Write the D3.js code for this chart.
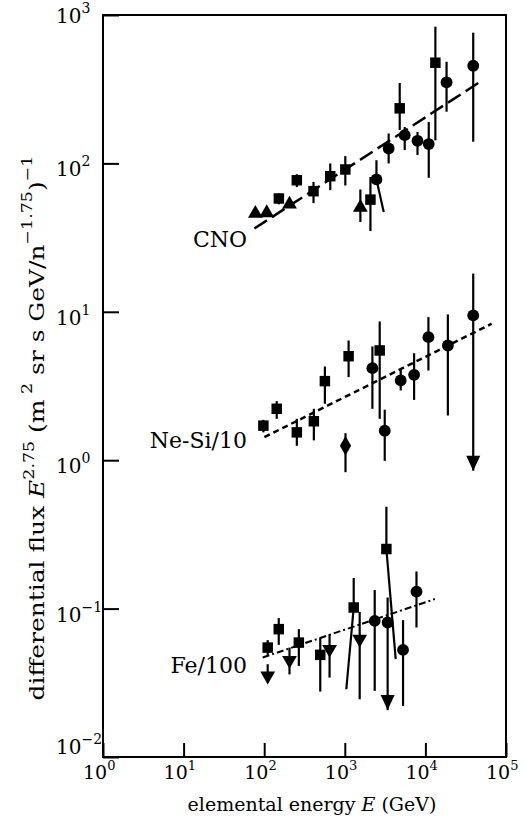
<!DOCTYPE html>
<html lang="en">
<head>
<meta charset="utf-8">
<title>Elemental flux</title>
<script src="https://d3js.org/d3.v7.min.js"></script>
<style>
  body { margin: 0; background: #fff; }
  svg text { font-family: "DejaVu Serif", serif; fill: #000; }
</style>
</head>
<body>
<div class="chart"></div>
<script>
// points: [energy (GeV), flux, lower end, upper end, energy at lower end (slanted bars)]
var cnoSquares = [
  [152, 58, 53, 62.6], [254, 77, 69.4, 84.6], [409, 65, 54, 75], [660, 82, 66, 100],
  [1015, 91, 71, 112], [2080, 57, 35, 81], [4800, 235, 168, 348], [13300, 477, 143, 834]
];
var cnoCircles = [
  [2470, 78, 47, 105, 3040], [3500, 126, 100, 159], [5540, 155, 123, 176],
  [7980, 142, 114, 163], [11000, 135, 80, 190], [18300, 352, 223, 484], [39200, 455, 140, 760]
];
var cnoTriangles = [
  [77.7, 46, null, null], [107.5, 46.4, null, null], [206, 53, null, null], [1560, 50.4, 40.3, 66.7]
];
var cnoFit = [[75.5, 36.4], [51300, 364]];

var neSquares = [
  [97.7, 1.71, 1.54, 1.87], [143, 2.22, 1.9, 2.5], [254, 1.54, 1.25, 1.9], [413, 1.83, 1.36, 2.22],
  [566, 3.41, 2.4, 4.28], [1115, 5.02, 3.63, 6.41], [2710, 5.49, 1.9, 8.61]
];
var neCircles = [
  [2200, 4.17, 2.22, 5.84], [3130, 1.58, 0.99, 2.19], [4940, 3.45, 2.95, 4.13],
  [7240, 3.76, 2.55, 5.26], [10900, 6.75, 4.02, 9.21], [19000, 5.93, 2.0, 9.6]
];
var neDiamonds = [[1020, 1.25, 0.83, 1.52]];
var neLimits = [[39200, 9.46, 0.85, 18.1]];
var neFit = [[100.6, 1.43], [66400, 8.31]];

var feSquares = [
  [110.5, 0.0546, 0.0488, 0.0613], [151.5, 0.0727, 0.057, 0.0863], [269, 0.059, 0.0411, 0.0727],
  [496, 0.0488, 0.0276, 0.0632], [1290, 0.1017, 0.0286, 0.1606, 1044], [3280, 0.252, 0.0456, 0.486, 4280]
];
var feTriangles = [
  [110.5, 0.0352, 0.0352, 0.0422], [206, 0.0449, 0.036, 0.0546], [647, 0.0533, 0.0343, 0.0673],
  [1530, 0.0623, 0.0245, 0.095]
];
var feCircles = [
  [2350, 0.0827, 0.0279, 0.1333], [5280, 0.0527, 0.0221, 0.0836], [7750, 0.13, 0.0746, 0.178]
];
var feLimits = [[3400, 0.0806, 0.0207, 0.1188]];
var feFit = [[95.8, 0.0468], [13100, 0.116]];

var xTicks = [1, 10, 100, 1000, 10000, 100000];
var xExp = ["0", "1", "2", "3", "4", "5"];
var yTicks = [0.01, 0.1, 1, 10, 100, 1000];
var yExp = ["\u22122", "\u22121", "0", "1", "2", "3"];

var labels = ["CNO", "Ne-Si/10", "Fe/100"];

var W = 525, H = 829;
var plot = {left: 103, right: 506, top: 15, bottom: 757};

var svg = d3.select(".chart").append("svg")
  .attr("width", W).attr("height", H);

var x = d3.scaleLog().domain([1, 1e5]).range([plot.left, plot.right]);
var y = d3.scaleLog().domain([1e-2, 1e3]).range([plot.bottom, plot.top]);

// axes, ticks pointing inwards
svg.append("g")
  .attr("transform", "translate(0," + plot.bottom + ")")
  .call(d3.axisBottom(x).tickValues(xTicks).tickSize(-14).tickFormat(""))
  .call(function(g){ g.select(".domain").remove(); })
  .selectAll("line").attr("stroke", "#000").attr("stroke-width", 2);

svg.append("g")
  .attr("transform", "translate(" + plot.left + ",0)")
  .call(d3.axisLeft(y).tickValues(yTicks).tickSize(-16).tickFormat(""))
  .call(function(g){ g.select(".domain").remove(); })
  .selectAll("line").attr("stroke", "#000").attr("stroke-width", 2);

svg.append("rect")
  .attr("x", plot.left).attr("y", plot.top)
  .attr("width", plot.right - plot.left).attr("height", plot.bottom - plot.top)
  .attr("fill", "none").attr("stroke", "#000").attr("stroke-width", 2);

// tick labels 10^n
var xl = svg.selectAll(".xlab").data(xTicks).enter().append("text")
  .attr("class", "xlab")
  .attr("x", function(d){ return x(d) - 20; })
  .attr("y", 779)
  .style("font-size", "19px");
xl.append("tspan").text("10");
xl.append("tspan").attr("dy", -9).style("font-size", "13px")
  .text(function(d, i){ return xExp[i]; });

// end labels are nudged inwards, as in the original
var yl = svg.selectAll(".ylab").data(yTicks).enter().append("text")
  .attr("class", "ylab")
  .attr("x", 56)
  .attr("y", function(d){ return y(d) + (d === 0.01 ? -3 : d === 1000 ? 8 : 13); })
  .style("font-size", "20px");
yl.append("tspan").text("10");
yl.append("tspan").attr("dy", -10).style("font-size", "14px")
  .text(function(d, i){ return yExp[i]; });

// axis titles
var xt = svg.append("text")
  .attr("x", 312).attr("y", 811)
  .attr("text-anchor", "middle")
  .style("font-size", "19px");
xt.append("tspan").text("elemental energy ");
xt.append("tspan").style("font-style", "italic").text("E");
xt.append("tspan").text(" (GeV)");

var yt = svg.append("text")
  .attr("text-anchor", "middle")
  .style("font-size", "20px");
yt.append("tspan").text("differential flux ");
yt.append("tspan").style("font-style", "italic").text("E");
yt.append("tspan").attr("dy", -10).style("font-size", "14px").text("2.75");
yt.append("tspan").attr("dy", 10).text(" (m");
yt.append("tspan").attr("dy", -12).style("font-size", "14px").text(" 2");
yt.append("tspan").attr("dy", 12).text("  sr s GeV/n");
yt.append("tspan").attr("dy", -12).style("font-size", "14px").text("\u22121.75");
yt.append("tspan").attr("dy", 12).text(")");
yt.append("tspan").attr("dy", -12).style("font-size", "14px").text("\u22121");
var ytLen = yt.node().getComputedTextLength();
yt.attr("transform", "translate(44,428) rotate(-90) scale(" + (545 / ytLen) + ",1)");

// fit lines
var line = d3.line().x(function(d){ return x(d[0]); }).y(function(d){ return y(d[1]); });
svg.append("path").attr("d", line(cnoFit))
  .attr("fill", "none").attr("stroke", "#000").attr("stroke-width", 2.5).attr("stroke-dasharray", "15,6");
svg.append("path").attr("d", line(neFit))
  .attr("fill", "none").attr("stroke", "#000").attr("stroke-width", 2.5).attr("stroke-dasharray", "6,4");
svg.append("path").attr("d", line(feFit))
  .attr("fill", "none").attr("stroke", "#000").attr("stroke-width", 2).attr("stroke-dasharray", "7,3,2,3");

// error bars
function bars(data) {
  svg.append("g").selectAll("path")
    .data(data.filter(function(d){ return d[2] != null; }))
    .enter().append("path")
    .attr("d", function(d){
      var xl = d[4] ? x(d[4]) : x(d[0]);
      return "M" + x(d[0]) + "," + y(d[3]) + "L" + x(d[0]) + "," + y(d[1]) + "L" + xl + "," + y(d[2]);
    })
    .attr("fill", "none").attr("stroke", "#000").attr("stroke-width", 2.2);
}

function marks(data, type, size, rot) {
  bars(data);
  svg.append("g").selectAll("path.m")
    .data(data).enter().append("path")
    .attr("class", "m")
    .attr("d", d3.symbol().type(type).size(size))
    .attr("transform", function(d){
      return "translate(" + x(d[0]) + "," + y(d[1]) + ")" + (rot ? " rotate(" + rot + ")" : "");
    })
    .attr("fill", "#000");
}

function limits(data) {
  marks(data, d3.symbolCircle, 110);
  svg.append("g").selectAll("path")
    .data(data).enter().append("path")
    .attr("d", function(d){
      var cx = x(d[0]), cy = y(d[2]);
      return "M" + cx + "," + cy + "L" + (cx - 7) + "," + (cy - 15) + "L" + (cx + 7) + "," + (cy - 15) + "Z";
    })
    .attr("fill", "#000");
}

marks(cnoSquares, d3.symbolSquare, 110);
marks(cnoCircles, d3.symbolCircle, 110);
marks(cnoTriangles, d3.symbolTriangle, 95);

marks(neSquares, d3.symbolSquare, 110);
marks(neCircles, d3.symbolCircle, 110);
marks(neDiamonds, d3.symbolDiamond, 110);
limits(neLimits);

marks(feSquares, d3.symbolSquare, 110);
marks(feTriangles, d3.symbolTriangle, 95, 180);
marks(feCircles, d3.symbolCircle, 110);
limits(feLimits);

// series labels
svg.selectAll(".slab").data(labels).enter().append("text")
  .attr("class", "slab")
  .attr("x", 247)
  .attr("y", function(d, i){ return [247, 448, 673][i]; })
  .attr("text-anchor", "end")
  .style("font-size", "22px")
  .text(function(d){ return d; });
</script>
</body>
</html>
